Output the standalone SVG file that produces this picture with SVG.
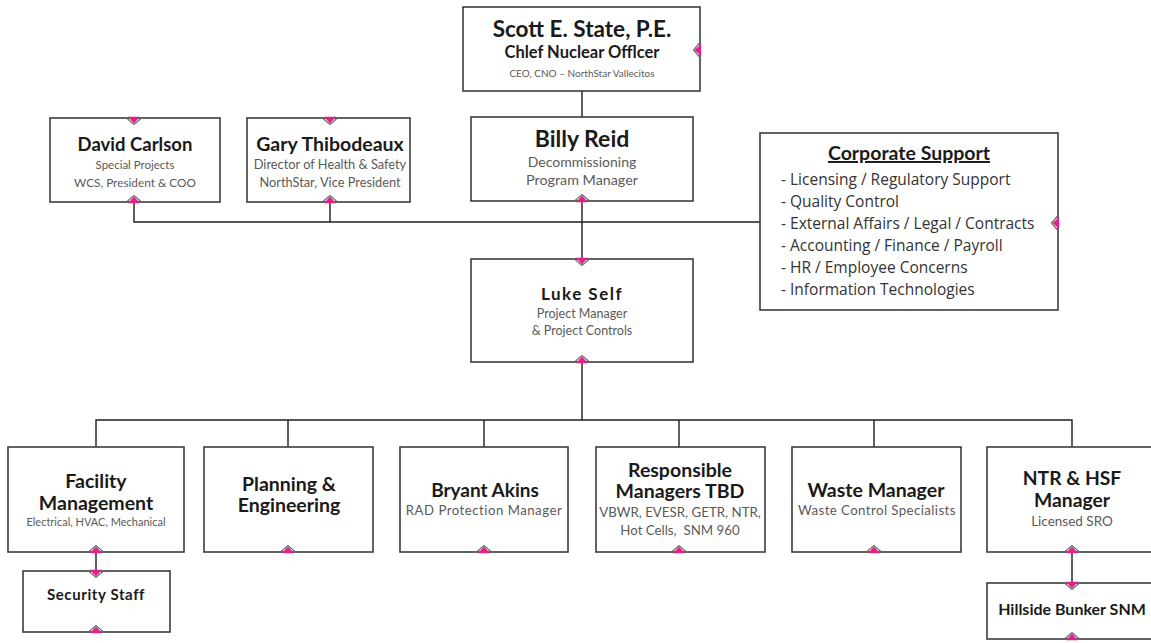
<svg xmlns="http://www.w3.org/2000/svg" width="1151" height="643" viewBox="0 0 1151 643">
<style>
.box{fill:#fff;stroke:#3c3c3c;stroke-width:1.6}
.con{stroke:#1e1e1e;stroke-width:1.4;fill:none}
text{font-family:Lato,"Liberation Sans",sans-serif;text-anchor:middle}
.n{font-weight:bold;fill:#1a1a1a}
.s{fill:#5a5a5a}
.l{font-family:"Open Sans","Liberation Sans",sans-serif;fill:#333;text-anchor:start;font-size:15.5px}
</style>
<defs>
<g id="notch">
<polygon points="-6,1.2 6,1.2 0,-5.5" fill="#e0218a"/>
<polyline points="-7.5,0 0,-6.5 7.5,0" fill="none" stroke="#6a6a6a" stroke-width="1.2"/>
</g>
</defs>
<rect width="1151" height="643" fill="#fff"/>
<g id="connectors">
<line class="con" x1="582" y1="91" x2="582" y2="117"/>
<line class="con" x1="582" y1="201" x2="582" y2="259"/>
<polyline class="con" points="134,202 134,222 760,222"/>
<line class="con" x1="330" y1="202" x2="330" y2="222"/>
<line class="con" x1="582" y1="362" x2="582" y2="420"/>
<polyline class="con" points="96,447 96,420 1072,420 1072,447"/>
<line class="con" x1="288" y1="420" x2="288" y2="447"/>
<line class="con" x1="484" y1="420" x2="484" y2="447"/>
<line class="con" x1="679" y1="420" x2="679" y2="447"/>
<line class="con" x1="874" y1="420" x2="874" y2="447"/>
<line class="con" x1="96" y1="552" x2="96" y2="571"/>
<line class="con" x1="1072" y1="552" x2="1072" y2="583"/>
</g>
<g id="scott">
<rect class="box" x="463" y="7" width="237" height="84"/>
<use href="#notch" transform="translate(700,50) rotate(-90)"/>
<text class="n" x="582" y="37" font-size="22.5">Scott E. State, P.E.</text>
<text class="n" x="582" y="58" font-size="16.5">Chlef Nuclear Offlcer</text>
<text class="s" x="582" y="77" font-size="10">CEO, CNO – NorthStar Vallecitos</text>
</g>
<g id="david">
<rect class="box" x="50" y="118" width="170" height="84"/>
<use href="#notch" transform="translate(134,118) rotate(180)"/>
<use href="#notch" transform="translate(134,202)"/>
<text class="n" x="135" y="151" font-size="18.5">David Carlson</text>
<text class="s" x="135" y="169" font-size="11.5">Special Projects</text>
<text class="s" x="135" y="187" font-size="11.8">WCS, President &amp; COO</text>
</g>
<g id="gary">
<rect class="box" x="247" y="118" width="163" height="84"/>
<use href="#notch" transform="translate(330,118) rotate(180)"/>
<use href="#notch" transform="translate(330,202)"/>
<text class="n" x="330" y="151" font-size="19.5">Gary Thibodeaux</text>
<text class="s" x="330" y="169" font-size="12.8">Director of Health &amp; Safety</text>
<text class="s" x="330" y="187" font-size="12.8">NorthStar, Vice President</text>
</g>
<g id="billy">
<rect class="box" x="471" y="117" width="222" height="84"/>
<use href="#notch" transform="translate(582,201)"/>
<text class="n" x="582" y="147" font-size="23">Billy Reid</text>
<text class="s" x="582" y="167" font-size="14">Decommissioning</text>
<text class="s" x="582" y="185" font-size="14.3">Program Manager</text>
</g>
<g id="corporate">
<rect class="box" x="760" y="133" width="298" height="177"/>
<use href="#notch" transform="translate(1058,223) rotate(-90)"/>
<text class="n" x="909" y="160" font-size="19.5" text-decoration="underline">Corporate Support</text>
<text class="l" x="781" y="185">- Licensing / Regulatory Support</text>
<text class="l" x="781" y="207">- Quality Control</text>
<text class="l" x="781" y="229">- External Affairs / Legal / Contracts</text>
<text class="l" x="781" y="251">- Accounting / Finance / Payroll</text>
<text class="l" x="781" y="273">- HR / Employee Concerns</text>
<text class="l" x="781" y="295">- Information Technologies</text>
</g>
<g id="luke">
<rect class="box" x="471" y="259" width="222" height="103"/>
<use href="#notch" transform="translate(582,259) rotate(180)"/>
<use href="#notch" transform="translate(582,362)"/>
<text class="n" x="582" y="300" font-size="17" letter-spacing="1.5">Luke Self</text>
<text class="s" x="582" y="318" font-size="12.5">Project Manager</text>
<text class="s" x="582" y="335" font-size="12.5">&amp; Project Controls</text>
</g>
<g id="facility">
<rect class="box" x="8" y="447" width="176" height="105"/>
<use href="#notch" transform="translate(96,552)"/>
<text class="n" x="96" y="488" font-size="19.5">Facility</text>
<text class="n" x="96" y="510" font-size="19.5">Management</text>
<text class="s" x="96" y="526" font-size="11">Electrical, HVAC, Mechanical</text>
</g>
<g id="planning">
<rect class="box" x="204" y="447" width="169" height="105"/>
<use href="#notch" transform="translate(288,552)"/>
<text class="n" x="289" y="491" font-size="19.5">Planning &amp;</text>
<text class="n" x="289" y="512" font-size="19.5">Engineering</text>
</g>
<g id="bryant">
<rect class="box" x="400" y="447" width="168" height="105"/>
<use href="#notch" transform="translate(484,552)"/>
<text class="n" x="485" y="497" font-size="19">Bryant Akins</text>
<text class="s" x="484" y="515" font-size="13.2" letter-spacing="0.5">RAD Protection Manager</text>
</g>
<g id="responsible">
<rect class="box" x="596" y="447" width="169" height="105"/>
<use href="#notch" transform="translate(679,552)"/>
<text class="n" x="680" y="477" font-size="19.5">Responsible</text>
<text class="n" x="680" y="498" font-size="19.5">Managers TBD</text>
<text class="s" x="680" y="517" font-size="13.3">VBWR, EVESR, GETR, NTR,</text>
<text class="s" x="680" y="535" font-size="13.3" style="white-space:pre">Hot Cells,  SNM 960</text>
</g>
<g id="waste">
<rect class="box" x="792" y="447" width="169" height="105"/>
<use href="#notch" transform="translate(874,552)"/>
<text class="n" x="876" y="497" font-size="19.5">Waste Manager</text>
<text class="s" x="877" y="515" font-size="13.3" letter-spacing="0.4">Waste Control Specialists</text>
</g>
<g id="ntr">
<rect class="box" x="987" y="447" width="170" height="105"/>
<use href="#notch" transform="translate(1072,552)"/>
<text class="n" x="1072" y="485" font-size="19.3">NTR &amp; HSF</text>
<text class="n" x="1072" y="507" font-size="19.3">Manager</text>
<text class="s" x="1072" y="526" font-size="13.5">Licensed SRO</text>
</g>
<g id="security">
<rect class="box" x="23" y="571" width="147" height="61"/>
<use href="#notch" transform="translate(96,571) rotate(180)"/>
<use href="#notch" transform="translate(96,632)"/>
<text class="n" x="96" y="600" font-size="15" letter-spacing="0.6">Security Staff</text>
</g>
<g id="hillside">
<rect class="box" x="987" y="583" width="170" height="56"/>
<use href="#notch" transform="translate(1072,583) rotate(180)"/>
<use href="#notch" transform="translate(1072,639)"/>
<text class="n" x="1072" y="615" font-size="16">Hillside Bunker SNM</text>
</g>
</svg>
